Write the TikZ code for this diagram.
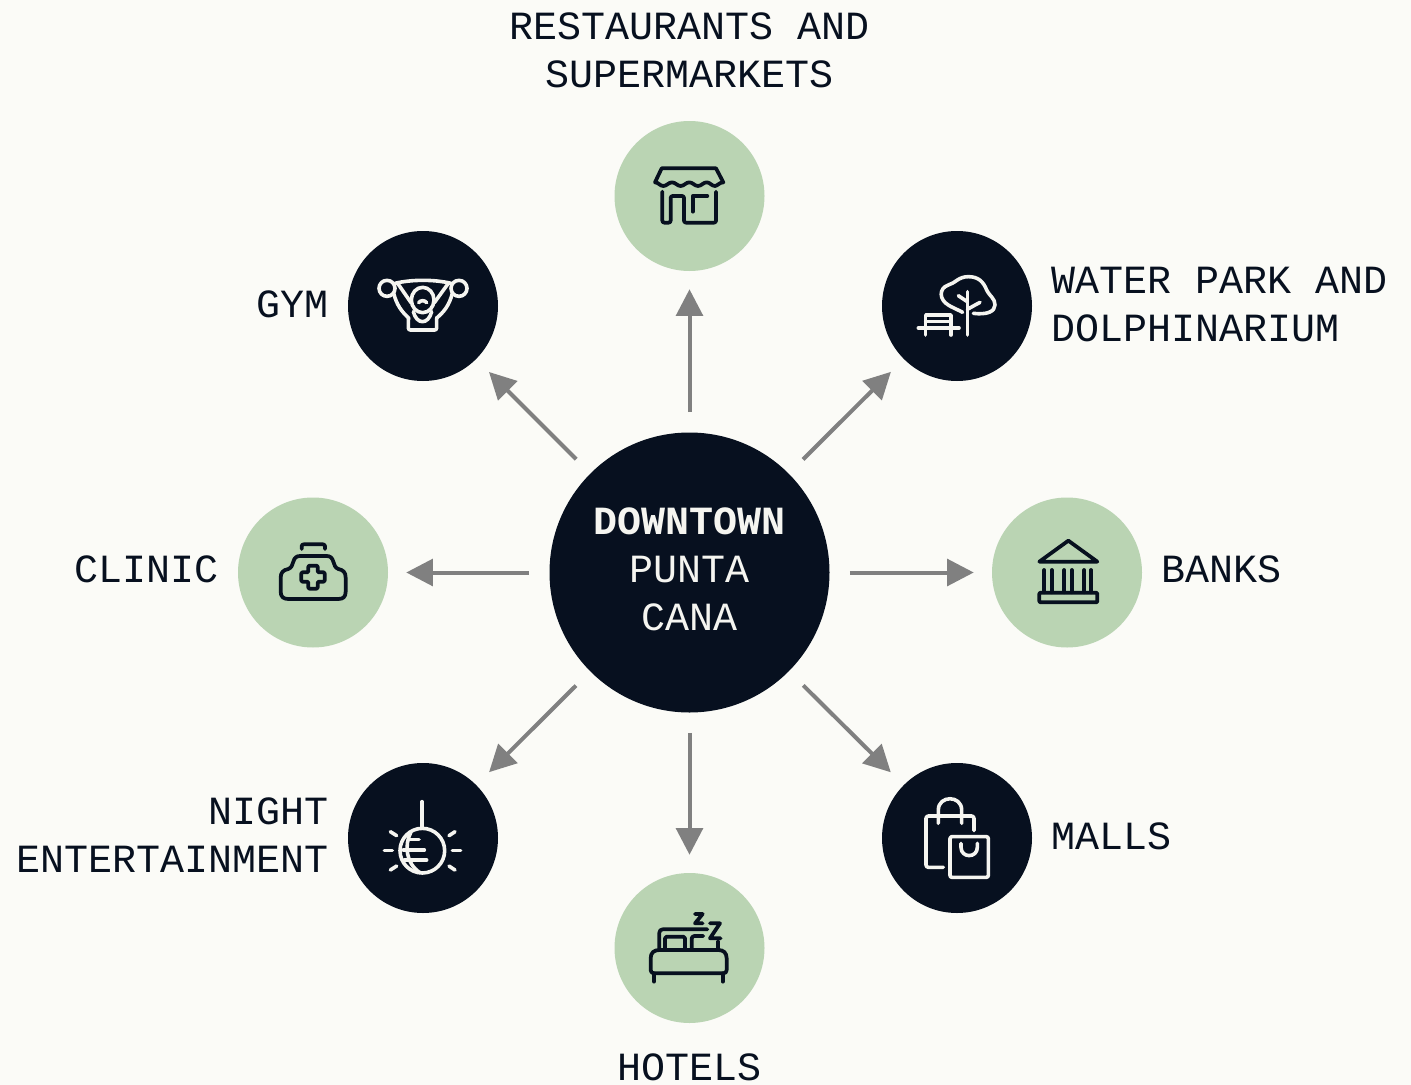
\documentclass[tikz,border=0pt]{standalone}
\usepackage{fontspec}
\setmonofont{Liberation Mono}
\usetikzlibrary{arrows.meta}
\definecolor{bgc}{HTML}{FBFBF7}
\definecolor{navy}{HTML}{07101F}
\definecolor{sage}{HTML}{BAD4B3}
\definecolor{arrowgrey}{HTML}{808080}
\definecolor{pale}{HTML}{F5F5F0}
\tikzset{
  x=0.75pt,y=-0.75pt,
  txt/.style={inner sep=0pt,text=navy,font=\ttfamily\fontsize{30pt}{36pt}\selectfont},
  hub/.style={circle,fill=navy,minimum size=210pt,inner sep=0pt},
  hubtext/.style={inner sep=0pt,text=pale,align=center,font=\ttfamily\fontsize{30pt}{36pt}\selectfont},
  darkdot/.style={circle,fill=navy,minimum size=112.5pt,inner sep=0pt},
  greendot/.style={circle,fill=sage,minimum size=112.5pt,inner sep=0pt},
  link/.style={draw=arrowgrey,line width=3pt,shorten <=15pt,shorten >=13.5pt,-{Triangle[length=20pt,width=20pt,fill=arrowgrey]}},
  icond/.style={draw=navy,line width=2.8pt,line cap=round,line join=round},
  iconl/.style={draw=pale,line width=2.7pt,line cap=round,line join=round},
  zoomed/.style={shift={(#1)},x=0.25pt,y=-0.25pt}
}
\begin{document}
\begin{tikzpicture}
\fill[bgc] (0,0) rectangle (1411,1085);
\useasboundingbox (0,0) rectangle (1411,1085);
\node[hub] (c) at (689.5,572.5) {};
\node[hubtext] (ctext) at (689.5,569.5) {\textbf{DOWNTOWN}\\PUNTA\\CANA};
\node[greendot] (shop) at (689.5,196) {};
\node[darkdot] (gym) at (423,306) {};
\node[darkdot] (park) at (957,306) {};
\node[greendot] (clinic) at (313,572.5) {};
\node[greendot] (bank) at (1067,572.5) {};
\node[darkdot] (night) at (423,838) {};
\node[darkdot] (mall) at (957,838) {};
\node[greendot] (hotel) at (689.5,948) {};
\foreach \t in {shop,gym,park,clinic,bank,night,mall,hotel} \draw[link] (c) -- (\t);
\node[txt,align=center] (l1) at (690,50) {RESTAURANTS AND\\SUPERMARKETS};
\node[txt,anchor=east] (l2) at (329,304) {GYM};
\node[txt,anchor=west,align=left] (l3) at (1051,304.5) {WATER PARK AND\\DOLPHINARIUM};
\node[txt,anchor=east] (l4) at (218.5,569.5) {CLINIC};
\node[txt,anchor=west] (l5) at (1161,569.5) {BANKS};
\node[txt,anchor=east,align=right] (l6) at (328.5,835.5) {NIGHT\\ENTERTAINMENT};
\node[txt,anchor=west] (l7) at (1051,836) {MALLS};
\node[txt] (l8) at (690,1067) {HOTELS};
% shop
\begin{scope}[zoomed={610,120}]
\draw[icond] (135,187) -- (155,145) -- (318,145) -- (340,187)
  .. controls (328,187) and (322,198) .. (315,198) .. controls (305,198) and (300,187) .. (290,187)
  .. controls (280,187) and (274,198) .. (264,198) .. controls (254,198) and (248,187) .. (238,187)
  .. controls (228,187) and (222,198) .. (212,198) .. controls (202,198) and (196,187) .. (186,187)
  .. controls (176,187) and (170,198) .. (160,198) .. controls (150,198) and (145,187) .. cycle;
\draw[icond,rounded corners=1.5pt] (157,215) -- (157,308) -- (182,308) -- (182,228) -- (222,228) -- (222,308) -- (318,308) -- (318,215);
\draw[icond] (292,228) -- (248,228) -- (248,275);
\end{scope}
% gym
\begin{scope}[zoomed={345,230}]
\draw[iconl] (126,175) circle[radius=24];
\draw[iconl] (342,175) circle[radius=24];
\draw[iconl] (150,160) .. controls (200,148) and (268,148) .. (318,160);
\draw[iconl] (233,210) ellipse[x radius=34,y radius=38];
\draw[iconl] (221,218) .. controls (227,210) and (239,210) .. (245,218);
\draw[iconl] (146,190) .. controls (155,225) and (170,245) .. (192,265);
\draw[iconl] (322,190) .. controls (313,225) and (298,245) .. (274,265);
\draw[iconl] (158,160) -- (198,218);
\draw[iconl] (310,160) -- (268,218);
\draw[iconl] (205,245) .. controls (215,285) and (250,285) .. (260,245);
\draw[iconl,rounded corners=1.5pt] (190,265) -- (190,300) -- (275,300) -- (275,265);
\end{scope}
% park
\begin{scope}[zoomed={880,230}]
\draw[iconl] (248,247) .. controls (225,235) and (215,232) .. (205,225) .. controls (178,210) and (175,175) .. (205,165)
  .. controls (225,160) and (235,140) .. (265,140) .. controls (295,140) and (310,155) .. (320,180)
  .. controls (330,200) and (345,205) .. (345,225) .. controls (345,245) and (320,255) .. (280,250);
\draw[iconl] (262,185) -- (262,315);
\draw[iconl] (235,197) -- (262,215);
\draw[iconl] (300,217) -- (262,238);
\draw[iconl] (115,294) -- (237,294);
\draw[iconl] (137,315) -- (137,255) -- (213,255) -- (213,315);
\draw[iconl] (137,275) -- (213,275);
\end{scope}
% clinic
\begin{scope}[zoomed={235,495}]
\draw[icond,rounded corners=1.5pt] (200,162) -- (200,148) -- (270,148) -- (270,162);
\draw[icond] (160,222) .. controls (170,218) and (172,210) .. (175,200) .. controls (178,188) and (185,183) .. (195,183)
  -- (275,183) .. controls (285,183) and (292,188) .. (295,200) .. controls (298,210) and (300,218) .. (310,222)
  .. controls (325,225) and (332,232) .. (332,248) -- (332,290) .. controls (332,305) and (325,312) .. (310,312)
  -- (160,312) .. controls (145,312) and (137,305) .. (137,290) -- (137,248) .. controls (137,232) and (145,225) .. cycle;
\draw[icond,rounded corners=0.8pt] (220,212) -- (248,212) -- (248,232) -- (269,232) -- (269,260) -- (248,260) -- (248,281) -- (220,281) -- (220,260) -- (199,260) -- (199,232) -- (220,232) -- cycle;
\end{scope}
% bank
\begin{scope}[zoomed={990,495}]
\draw[icond] (235,137) -- (322,200) -- (148,200) -- cycle;
\foreach \cx in {163,185,223,245,283,303} \draw[icond] (\cx,225) -- (\cx,292);
\draw[icond,rounded corners=0.8pt] (148,293) rectangle (322,322);
\end{scope}
% night
\begin{scope}[zoomed={345,760}]
\draw[iconl] (231,125) -- (231,205);
\draw[iconl] (232,272) circle[radius=67];
\draw[iconl] (197,218) .. controls (178,255) and (182,310) .. (225,338);
\draw[iconl] (190,238) -- (222,238);
\draw[iconl] (175,270) -- (238,270);
\draw[iconl] (178,300) -- (245,300);
\draw[iconl] (118,272) -- (142,272);
\draw[iconl] (322,272) -- (347,272);
\draw[iconl] (136,215) -- (155,227);
\draw[iconl] (330,215) -- (312,227);
\draw[iconl] (136,330) -- (155,318);
\draw[iconl] (330,330) -- (312,318);
\end{scope}
% mall
\begin{scope}[zoomed={880,760}]
\draw[iconl,rounded corners=1.8pt] (190,322) -- (138,322) -- (138,168) -- (282,168) -- (282,212);
\draw[iconl] (175,190) -- (175,150) .. controls (175,105) and (245,105) .. (245,150) -- (245,190);
\draw[iconl,rounded corners=1.5pt] (210,230) rectangle (325,352);
\draw[iconl] (243,250) -- (243,262) .. controls (243,295) and (292,295) .. (292,262) -- (292,250);
\end{scope}
% hotel
\begin{scope}[zoomed={610,870}]
\draw[icond] (122,300) -- (122,265) .. controls (122,248) and (132,240) .. (148,240) -- (325,240) .. controls (340,240) and (350,248) .. (350,265) -- (350,300) .. controls (350,306) and (346,310) .. (340,310) -- (132,310) .. controls (126,310) and (122,306) .. cycle;
\draw[icond] (132,310) -- (132,335);
\draw[icond] (338,310) -- (338,335);
\draw[icond,rounded corners=2.5pt] (148,240) -- (148,178) -- (292,178);
\draw[icond,rounded corners=1.2pt] (165,235) -- (165,200) -- (225,200) -- (225,235);
\draw[icond,rounded corners=2pt] (245,235) -- (245,198) -- (280,198);
\draw[icond] (325,215) -- (325,235);
\draw[icond] (300,160) -- (330,160) -- (300,205) -- (332,205);
\draw[icond] (255,132) -- (278,132) -- (255,160) -- (278,160);
\end{scope}
\end{tikzpicture}
\end{document}
